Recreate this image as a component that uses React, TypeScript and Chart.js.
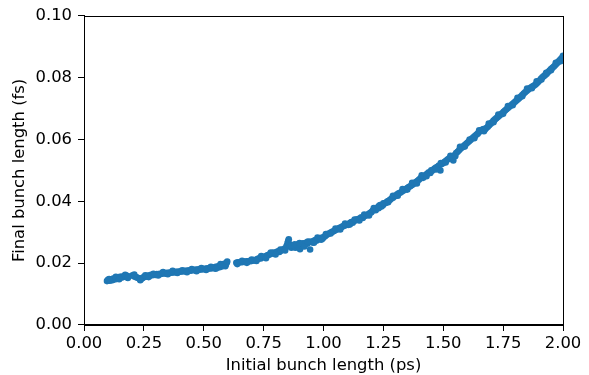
import React, { useEffect, useRef } from "react";
import { Chart, registerables } from "chart.js";

Chart.register(...registerables);

const xTickValues = [0, 0.25, 0.5, 0.75, 1.0, 1.25, 1.5, 1.75, 2.0];
const yTickValues = [0, 0.02, 0.04, 0.06, 0.08, 0.1];

const initialLength = [
  0.096, 0.100, 0.108, 0.112, 0.118, 0.122, 0.127, 0.131, 0.136, 0.140, 0.145, 0.150, 0.154, 0.159, 0.164, 0.170, 0.175, 0.180, 0.185,
  0.203, 0.208, 0.214, 0.220, 0.226, 0.232, 0.238, 0.243, 0.248, 0.253, 0.258, 0.263, 0.268, 0.274, 0.280, 0.286, 0.292, 0.298,
  0.304, 0.310, 0.316, 0.322, 0.328, 0.334, 0.340, 0.346, 0.352, 0.358, 0.364, 0.370, 0.376, 0.382, 0.388, 0.394, 0.400,
  0.406, 0.412, 0.418, 0.424, 0.430, 0.436, 0.442, 0.448, 0.454, 0.460, 0.466, 0.472, 0.478, 0.484, 0.490, 0.496, 0.502,
  0.508, 0.514, 0.520, 0.526, 0.532, 0.538, 0.544, 0.550, 0.556, 0.560, 0.566, 0.570, 0.575, 0.580, 0.584, 0.588, 0.592, 0.596,
  0.636, 0.642, 0.648, 0.654, 0.660, 0.666, 0.672, 0.678, 0.684, 0.690, 0.696, 0.702, 0.708, 0.714, 0.720, 0.726, 0.732,
  0.738, 0.744, 0.750, 0.756, 0.762, 0.768, 0.774, 0.780, 0.786, 0.792, 0.798, 0.804, 0.810, 0.816, 0.822, 0.828, 0.834,
  0.840, 0.846, 0.850, 0.853, 0.856, 0.860, 0.866, 0.872, 0.878, 0.884, 0.890, 0.896, 0.902, 0.908, 0.914, 0.920, 0.926,
  0.932, 0.938, 0.944, 0.948, 0.954, 0.960, 0.966, 0.972, 0.978, 0.984, 0.990, 0.996, 1.002, 1.008, 1.014, 1.020, 1.026,
  1.032, 1.038, 1.044, 1.050, 1.056, 1.062, 1.068, 1.074, 1.080, 1.086, 1.092, 1.098, 1.104, 1.110, 1.116, 1.122, 1.128,
  1.134, 1.140, 1.146, 1.152, 1.158, 1.164, 1.170, 1.176, 1.182, 1.188, 1.194, 1.200, 1.206, 1.212, 1.218, 1.224, 1.230,
  1.236, 1.242, 1.248, 1.254, 1.260, 1.266, 1.272, 1.278, 1.284, 1.290, 1.296, 1.302, 1.308, 1.314, 1.320, 1.326, 1.332,
  1.338, 1.344, 1.350, 1.356, 1.362, 1.368, 1.374, 1.380, 1.386, 1.392, 1.398, 1.404, 1.410, 1.416, 1.422, 1.428, 1.434,
  1.440, 1.446, 1.452, 1.458, 1.464, 1.470, 1.476, 1.482, 1.488, 1.494, 1.500, 1.506, 1.512, 1.518, 1.524, 1.530, 1.536,
  1.542, 1.548, 1.554, 1.560, 1.566, 1.572, 1.578, 1.584, 1.590, 1.596, 1.602, 1.608, 1.614, 1.620, 1.626, 1.632, 1.638,
  1.644, 1.650, 1.656, 1.662, 1.668, 1.674, 1.680, 1.686, 1.692, 1.698, 1.704, 1.710, 1.716, 1.722, 1.728, 1.734, 1.740,
  1.746, 1.752, 1.758, 1.764, 1.770, 1.776, 1.782, 1.788, 1.794, 1.800, 1.806, 1.812, 1.818, 1.824, 1.830, 1.836, 1.842,
  1.848, 1.854, 1.860, 1.866, 1.872, 1.878, 1.884, 1.890, 1.896, 1.902, 1.908, 1.914, 1.920, 1.926, 1.932, 1.938, 1.944,
  1.950, 1.956, 1.962, 1.968, 1.974, 1.980, 1.986, 1.992, 1.998, 2.000,
];

const finalLength = [
  0.0142, 0.0146, 0.0143, 0.0148, 0.0145, 0.0150, 0.0147, 0.0152, 0.0149, 0.0154, 0.0151, 0.0156, 0.0153, 0.0157, 0.0155, 0.0158, 0.0156, 0.0159, 0.0157,
  0.0161, 0.0158, 0.0156, 0.0154, 0.0152, 0.0150, 0.0149, 0.0151, 0.0154, 0.0156, 0.0158, 0.0157, 0.0160, 0.0159, 0.0162, 0.0161, 0.0163, 0.0162,
  0.0165, 0.0164, 0.0166, 0.0165, 0.0167, 0.0168, 0.0166, 0.0169, 0.0168, 0.0170, 0.0169, 0.0171, 0.0170, 0.0172, 0.0171, 0.0173, 0.0172,
  0.0174, 0.0173, 0.0175, 0.0174, 0.0176, 0.0175, 0.0177, 0.0176, 0.0178, 0.0177, 0.0179, 0.0178, 0.0180, 0.0179, 0.0181, 0.0180, 0.0182,
  0.0181, 0.0183, 0.0182, 0.0185, 0.0183, 0.0186, 0.0184, 0.0188, 0.0185, 0.0190, 0.0187, 0.0193, 0.0189, 0.0196, 0.0192, 0.0199, 0.0195, 0.0201,
  0.0201, 0.0203, 0.0202, 0.0204, 0.0203, 0.0205, 0.0204, 0.0206, 0.0205, 0.0207, 0.0206, 0.0208, 0.0210, 0.0209, 0.0212, 0.0214, 0.0216,
  0.0215, 0.0219, 0.0221, 0.0220, 0.0224, 0.0226, 0.0228, 0.0230, 0.0233, 0.0234, 0.0232, 0.0236, 0.0238, 0.0236, 0.0240, 0.0243, 0.0245,
  0.0248, 0.0256, 0.0266, 0.0272, 0.0262, 0.0254, 0.0250, 0.0256, 0.0252, 0.0250, 0.0256, 0.0262, 0.0245, 0.0258, 0.0264, 0.0260, 0.0266,
  0.0263, 0.0268, 0.0244, 0.0270, 0.0267, 0.0272, 0.0275, 0.0273, 0.0278, 0.0280, 0.0282, 0.0279, 0.0285, 0.0288, 0.0292, 0.0295, 0.0297,
  0.0300, 0.0302, 0.0304, 0.0307, 0.0309, 0.0312, 0.0314, 0.0316, 0.0319, 0.0321, 0.0323, 0.0326, 0.0324, 0.0330, 0.0333, 0.0331, 0.0336,
  0.0339, 0.0342, 0.0340, 0.0345, 0.0348, 0.0346, 0.0352, 0.0354, 0.0356, 0.0359, 0.0362, 0.0365, 0.0370, 0.0373, 0.0371, 0.0378, 0.0384,
  0.0388, 0.0383, 0.0387, 0.0393, 0.0395, 0.0399, 0.0402, 0.0405, 0.0409, 0.0412, 0.0416, 0.0419, 0.0423, 0.0426, 0.0428, 0.0431, 0.0434,
  0.0437, 0.0440, 0.0443, 0.0446, 0.0449, 0.0452, 0.0455, 0.0459, 0.0462, 0.0466, 0.0470, 0.0474, 0.0478, 0.0476, 0.0482, 0.0486, 0.0490,
  0.0494, 0.0492, 0.0498, 0.0502, 0.0506, 0.0509, 0.0512, 0.0516, 0.0500, 0.0521, 0.0524, 0.0528, 0.0531, 0.0535, 0.0538, 0.0542, 0.0544,
  0.0532, 0.0550, 0.0556, 0.0560, 0.0565, 0.0570, 0.0574, 0.0578, 0.0582, 0.0586, 0.0590, 0.0594, 0.0598, 0.0603, 0.0607, 0.0611, 0.0615,
  0.0619, 0.0624, 0.0628, 0.0631, 0.0634, 0.0632, 0.0637, 0.0641, 0.0646, 0.0651, 0.0656, 0.0661, 0.0665, 0.0669, 0.0673, 0.0677, 0.0681,
  0.0685, 0.0690, 0.0694, 0.0698, 0.0702, 0.0706, 0.0710, 0.0714, 0.0718, 0.0722, 0.0726, 0.0730, 0.0734, 0.0739, 0.0744, 0.0749, 0.0753,
  0.0757, 0.0761, 0.0765, 0.0768, 0.0771, 0.0774, 0.0777, 0.0781, 0.0786, 0.0791, 0.0796, 0.0801, 0.0805, 0.0809, 0.0813, 0.0818, 0.0823,
  0.0828, 0.0832, 0.0836, 0.0841, 0.0846, 0.0851, 0.0856, 0.0861, 0.0866, 0.0871,
];

// Points lying off the middle of the band (upper and lower edges of the scatter)
const edgeInitialLength = [
  0.105, 0.133, 0.147, 0.172, 0.183, 0.210, 0.235, 0.256, 0.270, 0.290, 0.310, 0.330, 0.350, 0.370, 0.390, 0.410, 0.430, 0.450,
  0.470, 0.490, 0.510, 0.530, 0.550, 0.570, 0.590, 0.598, 0.640, 0.660, 0.680, 0.700, 0.720, 0.740, 0.760, 0.780, 0.800, 0.820,
  0.840, 0.855, 0.865, 0.880, 0.900, 0.920, 0.935, 0.960, 0.975, 0.990, 1.010, 1.030, 1.050, 1.070, 1.090, 1.110, 1.130, 1.150,
  1.170, 1.190, 1.210, 1.230, 1.250, 1.270, 1.290, 1.310, 1.330, 1.350, 1.370, 1.390, 1.410, 1.430, 1.450, 1.470, 1.490, 1.510,
  1.530, 1.550, 1.570, 1.590, 1.610, 1.630, 1.650, 1.670, 1.690, 1.710, 1.730, 1.750, 1.770, 1.790, 1.810, 1.830, 1.850, 1.870,
  1.890, 1.910, 1.930, 1.950, 1.970, 1.990,
];

const edgeFinalLength = [
  0.0149, 0.0156, 0.0148, 0.0162, 0.0152, 0.0163, 0.0145, 0.0161, 0.0155, 0.0166, 0.0160, 0.0171, 0.0164, 0.0175, 0.0168, 0.0177, 0.0171, 0.0181,
  0.0174, 0.0184, 0.0178, 0.0188, 0.0182, 0.0197, 0.0190, 0.0205, 0.0197, 0.0208, 0.0201, 0.0212, 0.0207, 0.0223, 0.0216, 0.0234, 0.0228, 0.0244,
  0.0241, 0.0277, 0.0258, 0.0261, 0.0265, 0.0254, 0.0270, 0.0266, 0.0283, 0.0276, 0.0294, 0.0296, 0.0312, 0.0309, 0.0328, 0.0325, 0.0341, 0.0338,
  0.0357, 0.0354, 0.0378, 0.0378, 0.0394, 0.0397, 0.0418, 0.0418, 0.0440, 0.0438, 0.0460, 0.0458, 0.0484, 0.0481, 0.0500, 0.0503, 0.0524, 0.0526,
  0.0547, 0.0546, 0.0576, 0.0577, 0.0600, 0.0604, 0.0630, 0.0627, 0.0652, 0.0656, 0.0681, 0.0683, 0.0708, 0.0711, 0.0735, 0.0740, 0.0765, 0.0766,
  0.0788, 0.0794, 0.0816, 0.0824, 0.0848, 0.0853,
];

const xTitle = "Initial bunch length (ps)";
const yTitle = "Final bunch length (fs)";
const pointColor = "#1f77b4";

const FONT = "'DejaVu Sans', sans-serif";
const FONT_SIZE = 16.4;

const framePlugin = {
  id: "frame",
  afterDraw(chart: any) {
    const { ctx, chartArea } = chart;
    ctx.save();
    ctx.strokeStyle = "#000";
    ctx.lineWidth = 1;
    ctx.strokeRect(
      Math.round(chartArea.left) + 0.5,
      Math.round(chartArea.top) + 0.5,
      Math.round(chartArea.right - chartArea.left),
      Math.round(chartArea.bottom - chartArea.top)
    );
    ctx.restore();
  },
};

export default function App() {
  const ref = useRef<HTMLCanvasElement | null>(null);

  useEffect(() => {
    if (!ref.current) return;
    const points = initialLength
      .map((x, i) => ({ x, y: finalLength[i] }))
      .concat(edgeInitialLength.map((x, i) => ({ x, y: edgeFinalLength[i] })));
    const chart = new Chart(ref.current, {
      type: "scatter",
      data: {
        datasets: [
          {
            data: points,
            backgroundColor: pointColor,
            borderColor: pointColor,
            borderWidth: 0,
            pointRadius: 3.3,
            pointHoverRadius: 3.3,
          },
        ],
      },
      options: {
        animation: false,
        responsive: false,
        maintainAspectRatio: false,
        layout: { padding: { top: 15, right: 26, left: 0, bottom: 0 } },
        plugins: {
          legend: { display: false },
          tooltip: { enabled: false },
        },
        scales: {
          x: {
            type: "linear",
            min: 0,
            max: 2,
            afterBuildTicks: (s: any) => {
              s.ticks = xTickValues.map((v) => ({ value: v }));
            },
            afterFit: (s: any) => {
              s.height = 50;
            },
            ticks: {
              color: "#000",
              font: { family: FONT, size: FONT_SIZE, lineHeight: 1.0 },
              padding: 5,
              maxRotation: 0,
              autoSkip: false,
              callback: (v: any) => Number(v).toFixed(2),
            },
            grid: {
              drawOnChartArea: false,
              drawTicks: true,
              tickLength: 6,
              color: "#000",
            },
            border: { display: true, color: "#000" },
            title: {
              display: true,
              text: xTitle,
              color: "#000",
              font: { family: FONT, size: FONT_SIZE, lineHeight: 1.0 },
              padding: { top: 2, bottom: 1 },
            },
          },
          y: {
            type: "linear",
            min: 0,
            max: 0.1,
            afterBuildTicks: (s: any) => {
              s.ticks = yTickValues.map((v) => ({ value: v }));
            },
            afterFit: (s: any) => {
              s.width = 84;
            },
            ticks: {
              color: "#000",
              font: { family: FONT, size: FONT_SIZE },
              padding: 6,
              autoSkip: false,
              callback: (v: any) => Number(v).toFixed(2),
            },
            grid: {
              drawOnChartArea: false,
              drawTicks: true,
              tickLength: 6,
              color: "#000",
            },
            border: { display: true, color: "#000" },
            title: {
              display: true,
              text: yTitle,
              color: "#000",
              font: { family: FONT, size: FONT_SIZE, lineHeight: 1.0 },
              padding: { top: 12, bottom: 0 },
            },
          },
        },
      },
      plugins: [framePlugin],
    });
    return () => chart.destroy();
  }, []);

  return (
    <div style={{ position: "fixed", left: 0, top: 0, width: 589, height: 375, background: "#fff" }}>
      <canvas ref={ref} width={589} height={375} style={{ width: 589, height: 375 }} />
    </div>
  );
}
